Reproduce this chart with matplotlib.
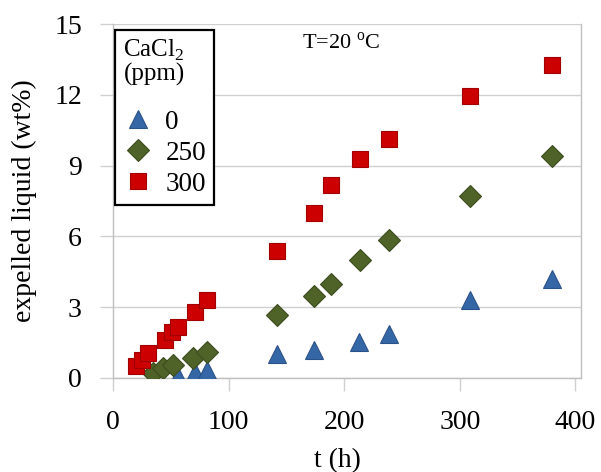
import matplotlib
matplotlib.use('Agg')
import matplotlib.pyplot as plt
from matplotlib.lines import Line2D

plt.rcParams['font.family'] = ['Liberation Serif', 'DejaVu Serif']
plt.rcParams['mathtext.fontset'] = 'custom'
plt.rcParams['mathtext.rm'] = 'Liberation Serif'

# CaCl2 = 0 ppm
t0 = [56, 71, 81, 142, 174, 213, 239, 309, 380]
w0 = [0.08, 0.25, 0.35, 1.0, 1.2, 1.5, 1.87, 3.3, 4.18]

# CaCl2 = 250 ppm
t250 = [35, 43, 52, 69, 81, 142, 174, 189, 214, 239, 309, 380]
w250 = [0.19, 0.4, 0.54, 0.83, 1.1, 2.66, 3.47, 3.98, 5.0, 5.85, 7.71, 9.41]

# CaCl2 = 300 ppm
t300 = [20, 25, 30, 45, 51, 56, 71, 81, 142, 174, 189, 214, 239, 309, 380]
w300 = [0.5, 0.76, 1.04, 1.6, 1.96, 2.15, 2.8, 3.3, 5.39, 6.98, 8.17, 9.28, 10.13, 11.97, 13.27]

labels = ['0', '250', '300']

blue, blue_e = '#3567a6', '#2b5288'
green, green_e = '#4f6228', '#3e4d1f'
red, red_e = '#cc0000', '#a00000'

fig = plt.figure(figsize=(6.01, 4.72), dpi=100)
ax = fig.add_axes([0.188, 0.1996, 0.779, 0.749])

ax.plot(t0, w0, ls='none', marker='^', ms=13, mfc=blue, mec=blue_e, mew=0.8, zorder=3)
ax.plot(t250, w250, ls='none', marker='D', ms=11.3, mfc=green, mec=green_e, mew=0.8, zorder=3)
ax.plot(t300, w300, ls='none', marker='s', ms=11.5, mfc=red, mec=red_e, mew=0.8, zorder=3)

ax.set_xlim(0, 405)
ax.set_ylim(0, 15)
ax.set_xticks([0, 100, 200, 300, 400])
ax.set_yticks([0, 3, 6, 9, 12, 15])
ax.yaxis.grid(True, color='#d0d0d0', lw=1)
ax.set_axisbelow(True)

ax.spines['top'].set_visible(False)
for s in ['left', 'right', 'bottom']:
    ax.spines[s].set_color('#bfbfbf')
    ax.spines[s].set_linewidth(1)

ax.tick_params(axis='y', length=9.4, width=1, color='#d0d0d0', pad=13, labelsize=20)
ax.tick_params(axis='x', length=9, width=1, color='#d0d0d0', pad=14, labelsize=20)

ax.set_xlabel('t (h)', fontsize=20)
ax.set_ylabel('expelled liquid (wt%)', fontsize=20)
ax.xaxis.set_label_coords(0.48, -0.2)
ax.yaxis.set_label_coords(-0.163, 0.5)

ax.text(0.487, 0.947, 'T=20 $^{\\mathrm{o}}$C', transform=ax.transAxes, ha='center', va='center', fontsize=16)

handles = [
    Line2D([], [], ls='none', marker='^', ms=13, mfc=blue, mec=blue_e, mew=0.8),
    Line2D([], [], ls='none', marker='D', ms=11.3, mfc=green, mec=green_e, mew=0.8),
    Line2D([], [], ls='none', marker='s', ms=11, mfc=red, mec=red_e, mew=0.8),
]
leg = ax.legend(handles, labels, title='CaCl$_2$\n(ppm)', loc='upper left',
                bbox_to_anchor=(0.005, 0.984), borderaxespad=0, fontsize=19.5,
                title_fontsize=18, alignment='left', handlelength=1.1,
                handletextpad=0.45, labelspacing=0.22, borderpad=0.3,
                fancybox=False, framealpha=1, edgecolor='black')
leg.get_title().set_linespacing(1.0)
leg._legend_box.sep = 17
leg.get_frame().set_linewidth(1.6)

fig.savefig('out.png', dpi=100)
